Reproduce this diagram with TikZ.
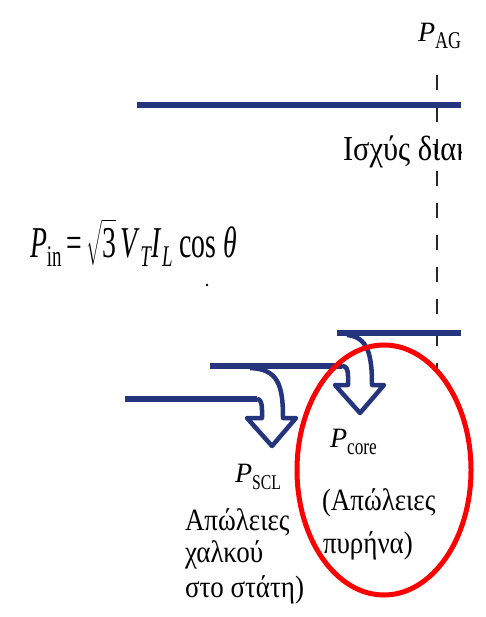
\documentclass[tikz,border=0pt]{standalone}
\usepackage{fontspec}
\setmainfont{Liberation Serif}
\usepackage{amsmath}
\definecolor{bandblue}{RGB}{36,52,125}
\newcommand\myfs[2]{\fontsize{#1}{#2}\selectfont}
\newcommand\narrow[1]{\scalebox{0.75}[1]{#1}}
\tikzset{
  band/.style={draw=bandblue, line width=5.5pt, line join=round},
  lossarrow/.style={draw=bandblue, line width=4.5pt, line join=round},
  txt/.style={anchor=base west, inner sep=0pt, outer sep=0pt, text=black},
  gtxt/.style={txt, xscale=0.87},
  gapline/.style={draw=black!85, line width=1.8pt, dash pattern=on 15pt off 17pt},
  ring/.style={draw=red, line width=5pt}
}
\begin{document}
\begin{tikzpicture}[x=1pt,y=-1pt]
\useasboundingbox (0,0) rectangle (485,617);
% coordinates
\coordinate (t0) at (137,105); \coordinate (t1) at (461,105);
\coordinate (l1a) at (125,399); \coordinate (l1b) at (257,399);
\coordinate (l2a) at (210,366); \coordinate (l2b) at (342,366);
\coordinate (l3a) at (337,333); \coordinate (l3b) at (461,333);
\coordinate (a1o) at (250,368);
\coordinate (a2o) at (347,335);
\coordinate (dtop) at (437,75); \coordinate (dbot) at (437,368);
\begin{scope}
\clip (0,0) rectangle (461,617);
\draw[gapline] (dtop) -- (dbot);
\draw[band] (t0) -- (t1);
\draw[band] (l1a) -- (l1b);
\draw[band] (l2a) -- (l2b);
\draw[band] (l3a) -- (l3b);
% loss arrow 1 (stator copper losses)
\draw[lossarrow] (a1o) .. controls (278,369) and (283,385) .. (283,418)
  -- (296,418) -- (272,446) -- (247,418) -- (262,418) -- (262,410)
  .. controls (262,402) and (260,399) .. (l1b);
% loss arrow 2 (core losses)
\draw[lossarrow] (a2o) .. controls (368,337) and (372,355) .. (372,385)
  -- (384,385) -- (360,413) -- (335,385) -- (348,385) -- (348,376)
  .. controls (348,369) and (346,366) .. (l2b);
\node[gtxt] (isx) at (343,161) {\myfs{35}{36}Ισχύς διακ};
\node[txt] (pag) at (418,42) {\myfs{28}{30}\textit{P}\raisebox{-7pt}{\myfs{24}{24}\narrow{AG}}};
\end{scope}
\node[txt, xscale=0.63] (pin) at (30,258) {\myfs{44}{46}\textit{P}\raisebox{-9pt}{\myfs{30}{30}in}\,=\,$\sqrt{\text{3}}$\,\textit{V}\raisebox{-9pt}{\myfs{30}{30}\textit{T}}\textit{I}\raisebox{-9pt}{\myfs{30}{30}\textit{L}} cos \textit{θ}};
\fill (207,285) circle (1.3pt);
\node[txt] (pscl) at (235,482) {\myfs{28}{30}\textit{P}\raisebox{-7pt}{\myfs{21}{22}\narrow{SCL}}};
\node[gtxt] (scl1) at (185,530) {\myfs{31}{32}Απώλειες};
\node[gtxt] (scl2) at (185,562) {\myfs{31}{32}χαλκού};
\node[gtxt] (scl3) at (185,597) {\myfs{31}{32}στο στάτη)};
\node[txt] (pcore) at (330,447) {\myfs{28}{30}\textit{P}\raisebox{-7pt}{\myfs{23}{24}\narrow{core}}};
\node[gtxt] (core1) at (322,510) {\myfs{31}{32}(Απώλειες};
\node[gtxt] (core2) at (323,553) {\myfs{31}{32}πυρήνα)};
\draw[ring] (384,470) ellipse [x radius=87pt, y radius=125pt];
\end{tikzpicture}
\end{document}
